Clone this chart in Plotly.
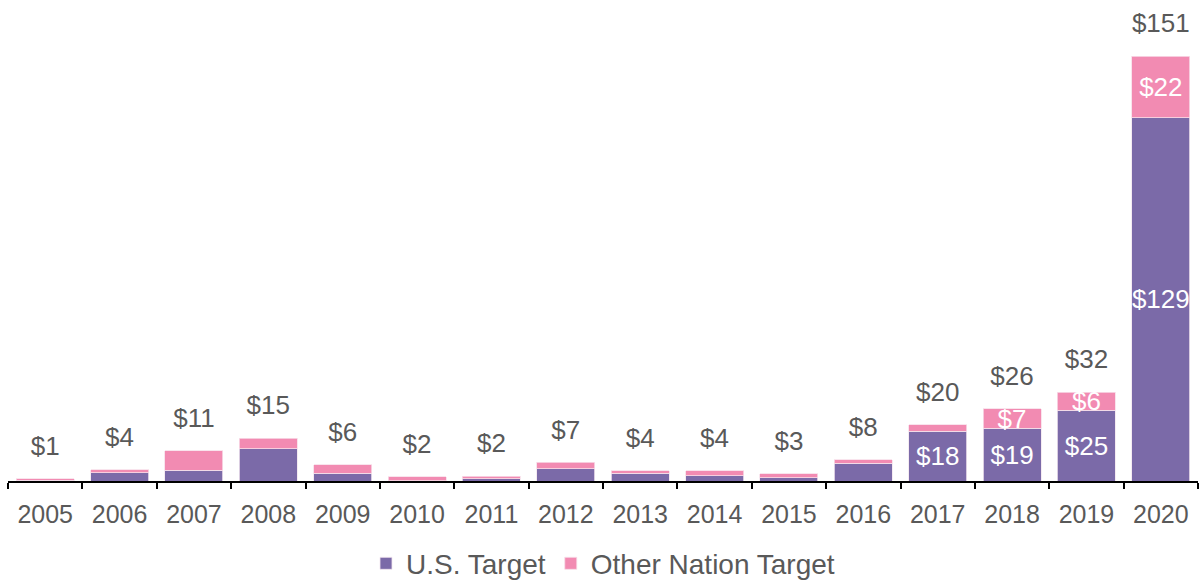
import plotly.graph_objects as go

years = ["2005", "2006", "2007", "2008", "2009", "2010", "2011", "2012",
         "2013", "2014", "2015", "2016", "2017", "2018", "2019", "2020"]
us_target = [0.3, 3.0, 3.9, 11.4, 2.8, 0.1, 0.8, 4.3, 2.8, 1.9, 1.1, 6.3, 17.6, 18.8, 25.2, 129.0]
other_target = [0.5, 1.0, 6.9, 3.8, 2.9, 1.5, 0.9, 2.3, 0.8, 1.7, 1.4, 1.3, 2.3, 6.8, 6.4, 22.0]
total_labels = ["$1", "$4", "$11", "$15", "$6", "$2", "$2", "$7", "$4", "$4", "$3", "$8",
                "$20", "$26", "$32", "$151"]
us_labels = [""] * 12 + ["$18", "$19", "$25", "$129"]
other_labels = [""] * 13 + ["$7", "$6", "$22"]

PURPLE = "#7B6AA8"
PINK = "#F28BB2"
GRAY = "#595959"
FONT = "Liberation Sans, Arial, sans-serif"

totals = [u + o for u, o in zip(us_target, other_target)]

fig = go.Figure()
fig.add_trace(go.Bar(
    x=years, y=us_target, name="U.S. Target",
    marker=dict(color=PURPLE, line=dict(color="#F3E6EF", width=0.8)),
    text=us_labels, textposition="inside", insidetextanchor="middle",
    textangle=0, constraintext="none",
    textfont=dict(color="white", size=26, family=FONT),
))
fig.add_trace(go.Bar(
    x=years, y=other_target, name="Other Nation Target",
    marker=dict(color=PINK, line=dict(color="#F8DDE8", width=0.8)),
    text=other_labels, textposition="inside", insidetextanchor="middle",
    textangle=0, constraintext="none",
    textfont=dict(color="white", size=26, family=FONT),
))
fig.add_trace(go.Scatter(
    x=years, y=totals, mode="markers+text", text=total_labels,
    textposition="top center", showlegend=False, cliponaxis=False,
    marker=dict(size=26, opacity=0, color="white"),
    textfont=dict(color=GRAY, size=26, family=FONT),
))

fig.update_layout(
    barmode="stack",
    bargap=0.22,
    width=1200, height=585,
    margin=dict(l=8, r=2, t=20, b=104, autoexpand=False),
    plot_bgcolor="white", paper_bgcolor="white",
    font=dict(family=FONT, color=GRAY, size=25),
    legend=dict(orientation="h", xanchor="center", x=0.5, yanchor="top", y=-0.125,
                traceorder="normal", font=dict(size=28, color=GRAY, family=FONT)),
    xaxis=dict(type="category", range=[-0.5, len(years) - 0.5],
               showline=True, linecolor="black", linewidth=2,
               ticks="outside", tickson="boundaries", ticklen=6, tickcolor="black",
               tickwidth=2, ticklabelstandoff=10,
               tickfont=dict(size=25, color=GRAY, family=FONT)),
    yaxis=dict(visible=False, range=[0, 163.8]),
)

fig.write_html("out.html")
